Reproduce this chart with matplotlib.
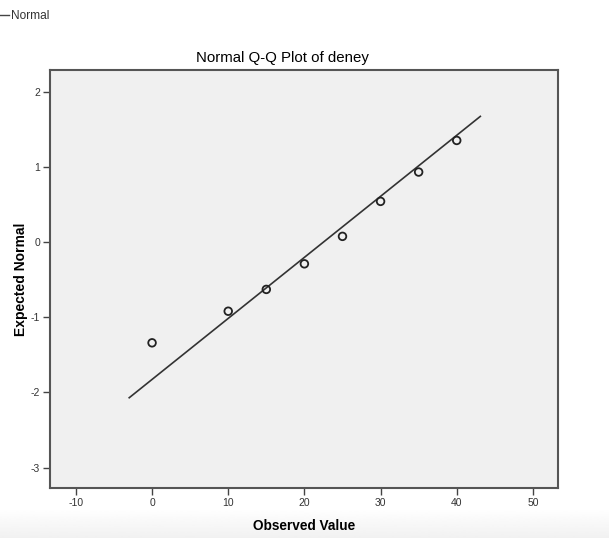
import numpy as np
import matplotlib.pyplot as plt

# values
observed = [0, 10, 15, 20, 25, 30, 35, 40]
expected = [-1.34, -0.92, -0.63, -0.29, 0.075, 0.54, 0.93, 1.35]

# reference (normal) line end points
line_x = [-3.0, 43.1]
line_y = [-2.07, 1.67]

xticks = [-10, 0, 10, 20, 30, 40, 50]
yticks = [-3, -2, -1, 0, 1, 2]

plt.rcParams['font.family'] = ['Liberation Sans', 'DejaVu Sans']
plt.rcParams['axes.unicode_minus'] = False

fig = plt.figure(figsize=(6.09, 5.38), dpi=100)

# faint gray band at the bottom of the screenshot
bg = fig.add_axes((0, 0, 1, 0.055), zorder=-5)
grad = np.linspace(0.945, 1.0, 50).reshape(-1, 1)
bg.imshow(grad, cmap='gray', vmin=0, vmax=1, aspect='auto', origin='lower',
          extent=(0, 1, 0, 1))
bg.axis('off')

ax = fig.add_axes((0.0821, 0.0929, 0.8342, 0.7761))
ax.set_facecolor('#f0f0f0')

ax.plot(line_x, line_y, color='#333333', lw=1.2, zorder=2)
ax.scatter(observed, expected, s=30, facecolors='none', edgecolors='#222222',
           linewidths=1.3, zorder=3)

ax.set_xlim(-13.4, 53.3)
ax.set_ylim(-3.27, 2.28)
ax.set_xticks(xticks)
ax.set_yticks(yticks)
ax.tick_params(direction='out', length=5, width=1, color='#444444',
               labelsize=7.5, labelcolor='#333333', pad=2)
for s in ax.spines.values():
    s.set_color('#555555')
    s.set_linewidth(1.5)

ax.set_xlabel('Observed Value', fontsize=9.8, fontweight='bold', labelpad=8)
ax.set_ylabel('Expected Normal', fontsize=10, fontweight='bold', labelpad=2)

fig.text(0.463, 0.893, 'Normal Q-Q Plot of deney', ha='center', va='center',
         fontsize=10.8)

# legend stub in the top-left corner
fig.lines.append(plt.Line2D([0.0, 0.015], [0.972, 0.972], color='#444444', lw=1,
                            transform=fig.transFigure))
fig.text(0.018, 0.971, 'Normal', ha='left', va='center', fontsize=8.6,
         color='#333333')

fig.savefig('out.png', dpi=100)
